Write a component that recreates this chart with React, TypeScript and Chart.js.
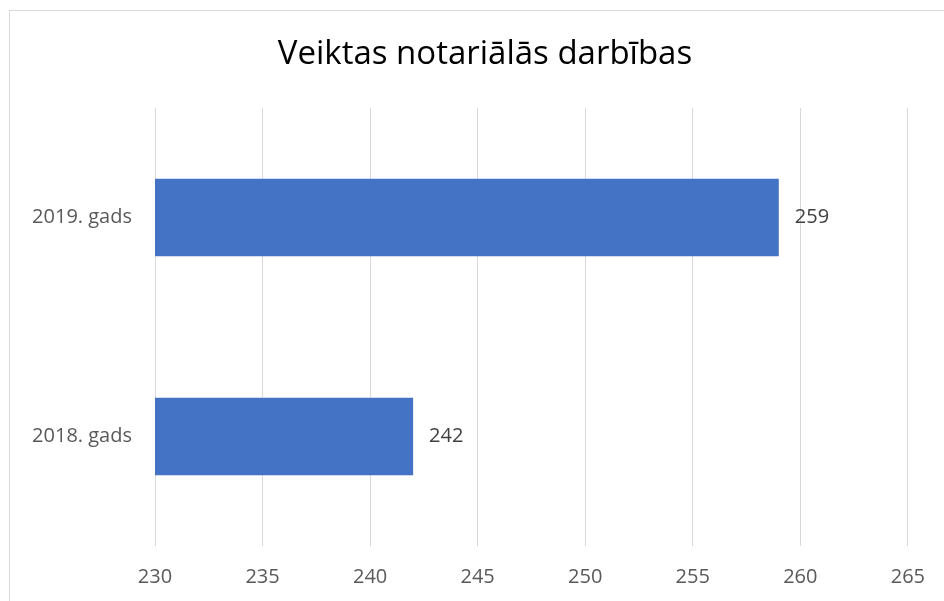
import React, { useEffect, useRef } from "react";
import { Chart, registerables } from "chart.js";

Chart.register(...registerables);

const title = "Veiktas notariālās darbības";
const categories = ["2019. gads", "2018. gads"];
const values = [259, 242];
const xMin = 230;
const xMax = 265;
const xStep = 5;

const FONT = "'Open Sans', Lato, sans-serif";

const dataLabels = {
  id: "dataLabels",
  afterDatasetsDraw(chart: any) {
    const ctx = chart.ctx;
    const meta = chart.getDatasetMeta(0);
    ctx.save();
    ctx.fillStyle = "#404040";
    ctx.font = `20px ${FONT}`;
    ctx.textAlign = "left";
    ctx.textBaseline = "middle";
    meta.data.forEach((bar: any, i: number) => {
      ctx.fillText(String(values[i]), bar.x + 16, bar.y);
    });
    ctx.restore();
  },
};

const titlePlugin = {
  id: "excelTitle",
  afterDraw(chart: any) {
    const ctx = chart.ctx;
    ctx.save();
    ctx.fillStyle = "#000000";
    ctx.font = `33px ${FONT}`;
    ctx.textAlign = "center";
    ctx.textBaseline = "middle";
    ctx.fillText(title, 485, 55);
    ctx.restore();
  },
};

export default function App() {
  const ref = useRef<HTMLCanvasElement | null>(null);
  useEffect(() => {
    if (!ref.current) return;
    const chart = new Chart(ref.current, {
      type: "bar",
      data: {
        labels: categories,
        datasets: [
          {
            data: values,
            backgroundColor: "#4472C4",
            borderWidth: 0,
            categoryPercentage: 1,
            barPercentage: 0.355,
          },
        ],
      },
      options: {
        indexAxis: "y",
        animation: false,
        responsive: false,
        maintainAspectRatio: false,
        layout: { padding: { left: 0, right: 30, top: 108, bottom: 0 } },
        plugins: {
          legend: { display: false },
          tooltip: { enabled: false },
          title: { display: false },
        },
        scales: {
          x: {
            type: "linear",
            min: xMin,
            max: xMax,
            ticks: {
              stepSize: xStep,
              color: "#595959",
              font: { family: FONT, size: 20 },
              padding: 19,
              maxRotation: 0,
            },
            grid: { color: "#d9d9d9", lineWidth: 1, drawTicks: false },
            border: { display: false },
            afterFit(scale: any) {
              scale.height = 55;
            },
          },
          y: {
            ticks: {
              color: "#595959",
              font: { family: FONT, size: 20 },
              padding: 23,
            },
            grid: { display: false, drawTicks: false },
            border: { display: false },
            afterFit(scale: any) {
              scale.width = 155;
            },
          },
        },
      },
      plugins: [dataLabels, titlePlugin],
    });
    return () => chart.destroy();
  }, []);

  return (
    <div style={{ position: "fixed", left: 0, top: 0, width: 944, height: 601, background: "#fff", overflow: "hidden" }}>
      <div
        style={{
          position: "absolute",
          left: 9,
          top: 10,
          width: 1000,
          height: 1000,
          border: "1px solid #d9d9d9",
        }}
      />
      <canvas ref={ref} width={944} height={601} style={{ position: "absolute", left: 0, top: 0 }} />
    </div>
  );
}
